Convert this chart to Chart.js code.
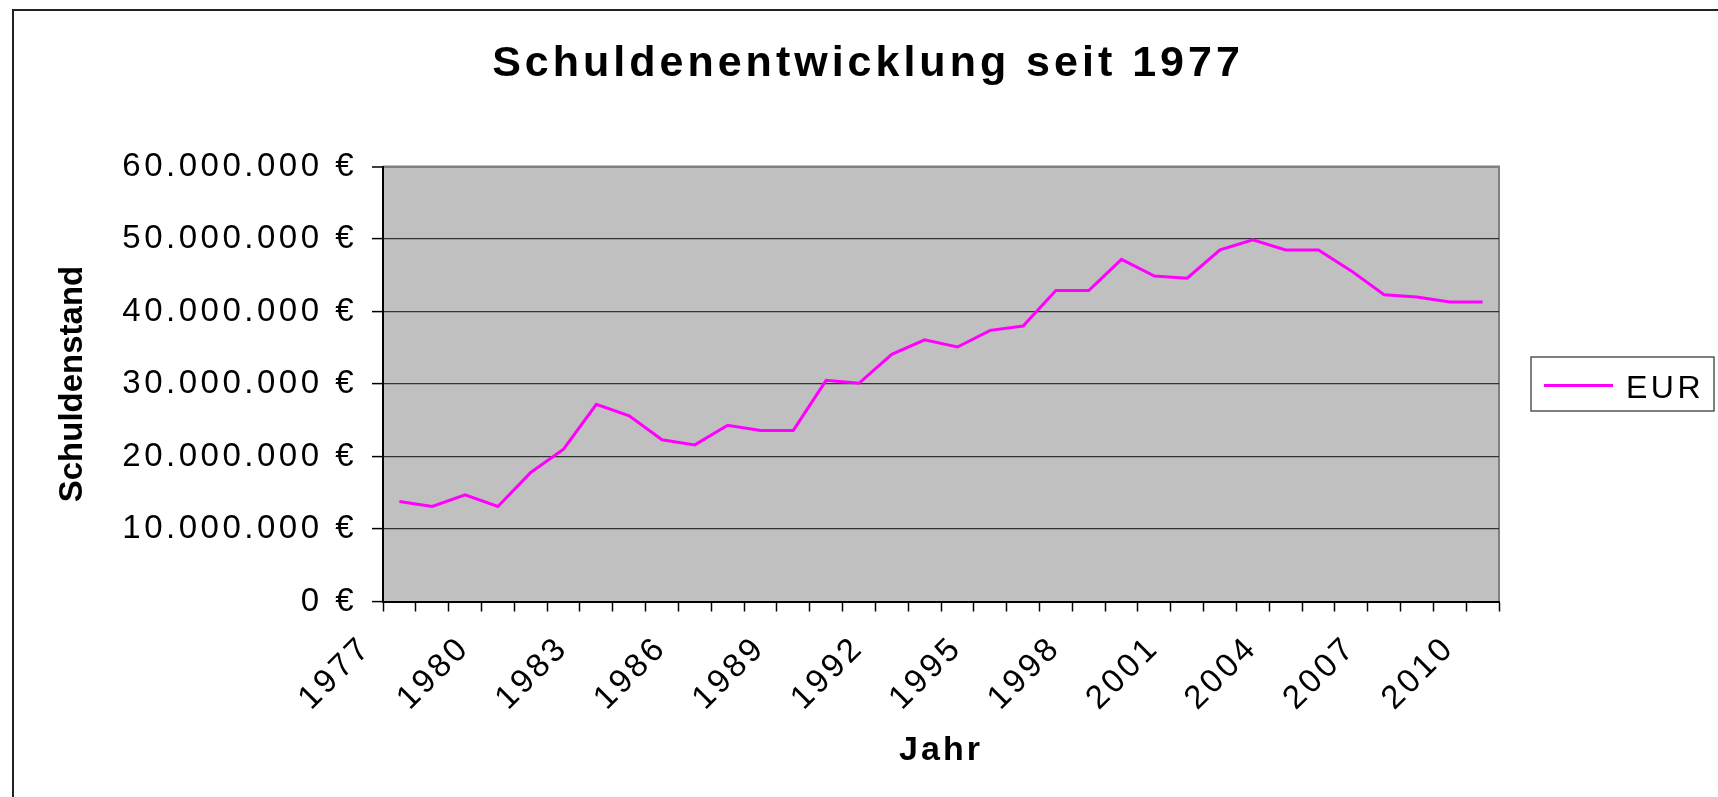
<!DOCTYPE html>
<html lang="de">
<head>
<meta charset="utf-8">
<title>Schuldenentwicklung seit 1977</title>
<script src="https://cdn.jsdelivr.net/npm/chart.js@4.4.1/dist/chart.umd.min.js"></script>
<style>
  html, body { margin: 0; padding: 0; background: #fff; }
  canvas { display: block; }
</style>
</head>
<body>
<canvas id="grafik" width="1718" height="797"></canvas>
<script>
// Jahre (Kategorien der x-Achse)
const jahre = [1977, 1978, 1979, 1980, 1981, 1982, 1983, 1984, 1985, 1986, 1987, 1988,
  1989, 1990, 1991, 1992, 1993, 1994, 1995, 1996, 1997, 1998, 1999, 2000,
  2001, 2002, 2003, 2004, 2005, 2006, 2007, 2008, 2009, 2010];

// Schuldenstand in Euro
const schuldenstand = [13800000, 13100000, 14700000, 13100000, 17800000, 21000000, 27200000, 25600000,
  22300000, 21600000, 24300000, 23600000, 23600000, 30500000, 30100000, 34100000,
  36100000, 35100000, 37400000, 38000000, 42900000, 42900000, 47200000, 44900000,
  44600000, 48500000, 49900000, 48500000, 48500000, 45600000, 42300000, 42000000,
  41300000, 41300000];

// Jahre mit Beschriftung auf der x-Achse
const beschrifteteJahre = [1977, 1980, 1983, 1986, 1989, 1992, 1995, 1998, 2001, 2004, 2007, 2010];

// Skala der y-Achse
const yMin = 0;
const yMax = 60000000;
const ySchritt = 10000000;

const schrift = "'Liberation Sans', Arial, sans-serif";

// Zahl im deutschen Format mit Euro-Zeichen
function euro(wert) {
  return String(wert).replace(/\B(?=(\d{3})+(?!\d))/g, '.') + ' €';
}

// Zeichenabstand je nach Schrift (Titel, Achsentitel, Beschriftungen)
function abstand(font) {
  if (font.indexOf('bold 33px') === 0) return '0px';
  if (font.indexOf('bold 34px') === 0) return '3px';
  if (font.indexOf('bold') === 0) return '4px';
  return '3.5px';
}

// Rahmen, Hintergrund der Zeichenfläche, Legende und Zeichenabstand
const rahmenPlugin = {
  id: 'rahmen',
  beforeInit(chart) {
    const ctx = chart.ctx;
    const fill = ctx.fillText;
    const measure = ctx.measureText;
    ctx.fillText = function(...args) {
      this.letterSpacing = abstand(this.font);
      return fill.apply(this, args);
    };
    ctx.measureText = function(text) {
      this.letterSpacing = abstand(this.font);
      return measure.call(this, text);
    };
  },
  beforeDraw(chart) {
    const ctx = chart.ctx;
    const a = chart.chartArea;
    ctx.save();
    ctx.fillStyle = '#fff';
    ctx.fillRect(0, 0, chart.width, chart.height);
    // äußerer Rahmen
    ctx.strokeStyle = '#222';
    ctx.lineWidth = 2;
    ctx.beginPath();
    ctx.moveTo(13, chart.height);
    ctx.lineTo(13, 10);
    ctx.lineTo(chart.width, 10);
    ctx.stroke();
    // grauer Hintergrund
    ctx.fillStyle = '#c0c0c0';
    ctx.fillRect(a.left, a.top, a.right - a.left, a.bottom - a.top);
    ctx.strokeStyle = '#808080';
    ctx.lineWidth = 2;
    ctx.beginPath();
    ctx.moveTo(a.left, a.top);
    ctx.lineTo(a.right, a.top);
    ctx.lineTo(a.right, a.bottom);
    ctx.stroke();
    ctx.restore();
  },
  afterDraw(chart) {
    const ctx = chart.ctx;
    const ds = chart.data.datasets[0];
    ctx.save();
    ctx.fillStyle = '#fff';
    ctx.fillRect(1531, 357, 183, 54);
    ctx.strokeStyle = '#555';
    ctx.lineWidth = 1.5;
    ctx.strokeRect(1531, 357, 183, 54);
    ctx.strokeStyle = ds.borderColor;
    ctx.lineWidth = 3;
    ctx.beginPath();
    ctx.moveTo(1544, 385.5);
    ctx.lineTo(1613, 385.5);
    ctx.stroke();
    ctx.fillStyle = '#000';
    ctx.font = '32px ' + schrift;
    ctx.textBaseline = 'alphabetic';
    ctx.textAlign = 'left';
    ctx.fillText(ds.label, 1626, 397.5);
    ctx.restore();
  }
};

new Chart(document.getElementById('grafik'), {
  type: 'line',
  data: {
    labels: jahre,
    datasets: [{
      label: 'EUR',
      data: schuldenstand,
      borderColor: '#ff00ff',
      borderWidth: 3,
      pointRadius: 0,
      tension: 0,
      fill: false
    }]
  },
  options: {
    responsive: false,
    animation: false,
    layout: { padding: { left: 18, right: 0, top: 0, bottom: 0 } },
    plugins: {
      legend: { display: false },
      tooltip: { enabled: false },
      title: {
        display: true,
        text: 'Schuldenentwicklung seit 1977',
        color: '#000',
        font: { family: schrift, size: 43, weight: 'bold', lineHeight: 1.2 },
        padding: { top: 38.2, bottom: 76.7 }
      }
    },
    scales: {
      x: {
        offset: true,
        afterFit: s => { s.height = 195.5; },
        border: { color: '#000', width: 2 },
        grid: {
          offset: true,
          drawOnChartArea: false,
          drawTicks: true,
          tickLength: 10,
          tickColor: '#000',
          tickWidth: 1.5
        },
        ticks: {
          autoSkip: false,
          minRotation: 45,
          maxRotation: 45,
          padding: 17,
          labelOffset: -33,
          color: '#000',
          font: { family: schrift, size: 33 },
          callback: function(wert, index) {
            const jahr = jahre[index];
            return beschrifteteJahre.includes(jahr) ? String(jahr) : '';
          }
        },
        title: {
          display: true,
          text: 'Jahr',
          color: '#000',
          font: { family: schrift, size: 34, weight: 'bold', lineHeight: 1.2 },
          padding: { top: 0, bottom: 25.5 }
        }
      },
      y: {
        min: yMin,
        max: yMax,
        afterFit: s => { s.width = 365; },
        border: { color: '#000', width: 2 },
        grid: {
          color: ctx => (ctx.tick && ctx.tick.value === yMax ? '#808080' : '#333'),
          lineWidth: ctx => (ctx.tick && ctx.tick.value === yMax ? 2 : 1.2),
          tickLength: 11,
          tickColor: '#000',
          tickWidth: 1.5
        },
        ticks: {
          stepSize: ySchritt,
          padding: 15,
          color: '#000',
          font: { family: schrift, size: 33 },
          callback: wert => euro(wert)
        },
        title: {
          display: true,
          text: 'Schuldenstand',
          color: '#000',
          font: { family: schrift, size: 33, weight: 'bold', lineHeight: 1.2 },
          padding: { top: 35.2, bottom: 0 }
        }
      },
      // Platzhalter rechts für die Legende
      rechts: {
        type: 'linear',
        position: 'right',
        display: true,
        afterFit: s => { s.width = 219; },
        border: { display: false },
        grid: { display: false },
        ticks: { display: false }
      }
    }
  },
  plugins: [rahmenPlugin]
});
</script>
</body>
</html>
